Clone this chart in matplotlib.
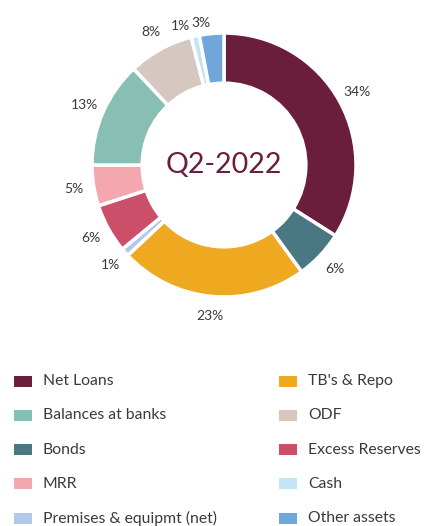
import matplotlib
matplotlib.use("Agg")
import matplotlib.pyplot as plt
from matplotlib.patches import Rectangle

plt.rcParams['font.family'] = ['Lato', 'DejaVu Sans']

# Asset composition, clockwise from 12 o'clock
categories = ["Net Loans", "Bonds", "TB's & Repo", "Premises & equipmt (net)",
              "Excess Reserves", "MRR", "Balances at banks", "ODF", "Cash",
              "Other assets"]
shares = [34, 6, 23, 1, 6, 5, 13, 8, 1, 3]
colors = ["#6B1D3C", "#497883", "#EFA920", "#B3C7E8", "#CC4F6A",
          "#F5A7B0", "#88BFB4", "#D5C8C0", "#C1E5F5", "#70A6DA"]
center_label = "Q2-2022"

# Legend layout (two columns, read row by row)
legend_order = ["Net Loans", "TB's & Repo", "Balances at banks", "ODF",
                "Bonds", "Excess Reserves", "MRR", "Cash",
                "Premises & equipmt (net)", "Other assets"]

W, H = 424, 526
fig = plt.figure(figsize=(W / 100, H / 100), dpi=100)

ax = fig.add_axes([92 / W, 1 - 297 / H, 264 / W, 264 / H])
wedges, texts, autotexts = ax.pie(
    shares, colors=colors, startangle=90, counterclock=False,
    wedgeprops=dict(width=0.38, edgecolor="white", linewidth=2.5),
    autopct=lambda p: f"{p:.0f}%", pctdistance=1.15,
    textprops=dict(color="#3a3a3a", fontsize=10),
)
ax.set_xlim(-1, 1)
ax.set_ylim(-1, 1)
ax.set_aspect("equal")
for t in autotexts:
    t.set_clip_on(False)

# the two thin slices at the top: pull their labels in and to the left
for name, dx in (("Cash", -0.08), ("Other assets", -0.07)):
    lab = autotexts[categories.index(name)]
    px, py = lab.get_position()
    lab.set_position((px + dx, py - 0.07))

ax.text(0, 0, center_label, ha="center", va="center", fontsize=20.5,
        color="#6B1D3C")

# Legend drawn in pixel space below the donut
lax = fig.add_axes([0, 0, 1, 1])
lax.set_xlim(0, W)
lax.set_ylim(H, 0)
lax.axis("off")
col_x = [14, 279]
row_y0, row_dy = 381, 34.3
for i, name in enumerate(legend_order):
    r, c = divmod(i, 2)
    y = row_y0 + r * row_dy
    x = col_x[c]
    lax.add_patch(Rectangle((x, y - 5.5), 18, 11,
                            color=colors[categories.index(name)], lw=0))
    lax.text(x + 29, y, name, ha="left", va="center", fontsize=11.3,
             color="#3a3a3a")

fig.savefig("out.png", dpi=100)
